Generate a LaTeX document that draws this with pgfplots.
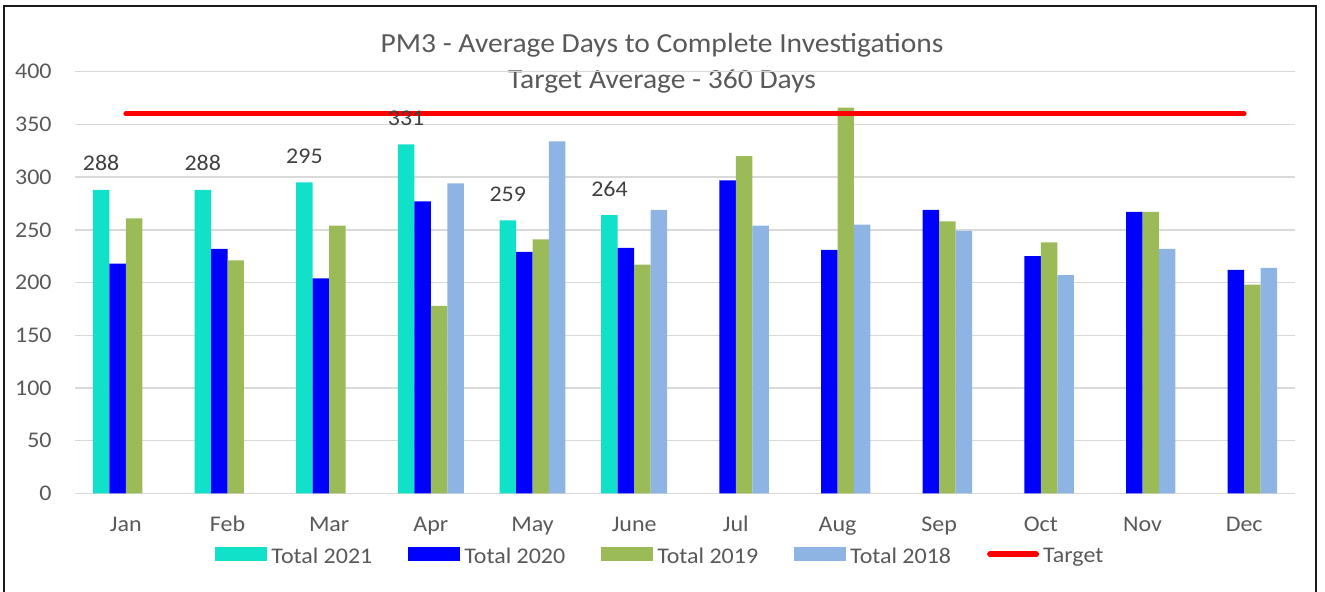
\documentclass[border=0pt]{standalone}
\usepackage{pgfplots}
\pgfplotsset{compat=1.18}
\usepackage{fontspec}
\setmainfont{Carlito}[FakeStretch=1.07]
\definecolor{c2021}{RGB}{17,225,200}
\definecolor{c2020}{RGB}{0,0,255}
\definecolor{c2019}{RGB}{155,187,89}
\definecolor{c2018}{RGB}{142,180,227}
\definecolor{tgray}{RGB}{89,89,89}
\definecolor{lgray}{RGB}{64,64,64}
\definecolor{gridc}{RGB}{217,217,217}
\newcommand{\fs}{\fontsize{11.2}{13.5}\selectfont}
\pgfplotsset{
  barleg/.style={legend image code/.code={\fill[##1, draw=none] (0pt,-2pt) rectangle (26pt,5pt);}},
  tgtleg/.style={legend image code/.code={\draw[##1, line width=3pt] (1.5pt,1.3pt) -- (24.5pt,1.3pt);}},
}
\begin{document}
\begin{tikzpicture}
\useasboundingbox (0,0) rectangle (662.5pt,295.5pt);
\draw[line width=1.2pt, black!90] (2pt,-5pt) -- (2pt,292.5pt) -- (658pt,292.5pt) -- (658pt,-5pt);
\node[anchor=base, text=tgray, font=\fontsize{13.8}{16.5}\selectfont] at (331pt,269.1pt) {PM3 - Average Days to Complete Investigations};
\node[anchor=base, text=tgray, font=\fontsize{13.8}{16.5}\selectfont] at (331pt,251.3pt) {Target Average - 360 Days};
\begin{axis}[
  at={(37.5pt,48.8pt)}, anchor=south west,
  width=610pt, height=210.85pt, scale only axis,
  xmin=-0.5, xmax=11.5, ymin=0, ymax=400,
  clip=false,
  xtick={0,...,11},
  xticklabels={Jan,Feb,Mar,Apr,May,June,Jul,Aug,Sep,Oct,Nov,Dec},
  ytick={0,50,...,400},
  ymajorgrids, grid style={draw=gridc, line width=0.75pt},
  axis line style={draw=none}, tick style={draw=none},
  /pgf/number format/assume math mode=true,
  tick label style={font=\fs, text=tgray},
  yticklabel style={anchor=east, inner sep=0pt, xshift=-11.5pt},
  xticklabel style={anchor=base, inner sep=0pt, yshift=-19.15pt},
  legend columns=5,
  legend style={at={(0.479,-0.1495)}, anchor=center, draw=none, fill=none,
    font=\fs, text=tgray, inner sep=0pt,
    nodes={inner sep=0pt},
    /tikz/every odd column/.append style={column sep=2pt},
    /tikz/every even column/.append style={column sep=18pt}},
]
\addplot[ybar, bar width=0.162, bar shift=-0.243, fill=c2021, draw=none, barleg,
  nodes near coords, nodes near coords style={font=\fs, text=lgray, anchor=south, inner sep=0pt, yshift=9.2pt, xshift=-12.35pt}]
  coordinates {(0,288) (1,288) (2,295) (3,331) (4,259) (5,264)};
\addlegendentry{Total 2021}
\addplot[ybar, bar width=0.162, bar shift=-0.081, fill=c2020, draw=none, barleg]
  coordinates {(0,218) (1,232) (2,204) (3,277) (4,229) (5,233) (6,297) (7,231) (8,269) (9,225) (10,267) (11,212)};
\addlegendentry{Total 2020}
\addplot[ybar, bar width=0.162, bar shift=0.081, fill=c2019, draw=none, barleg]
  coordinates {(0,261) (1,221) (2,254) (3,178) (4,241) (5,217) (6,320) (7,366) (8,258) (9,238) (10,267) (11,198)};
\addlegendentry{Total 2019}
\addplot[ybar, bar width=0.162, bar shift=0.243, fill=c2018, draw=none, barleg]
  coordinates {(3,294) (4,334) (5,269) (6,254) (7,255) (8,249) (9,207) (10,232) (11,214)};
\addlegendentry{Total 2018}
\addplot[sharp plot, red, line width=2.5pt, line cap=round, mark=none, tgtleg]
  coordinates {(0,360) (11,360)};
\addlegendentry{Target}
\end{axis}
\end{tikzpicture}
\end{document}
